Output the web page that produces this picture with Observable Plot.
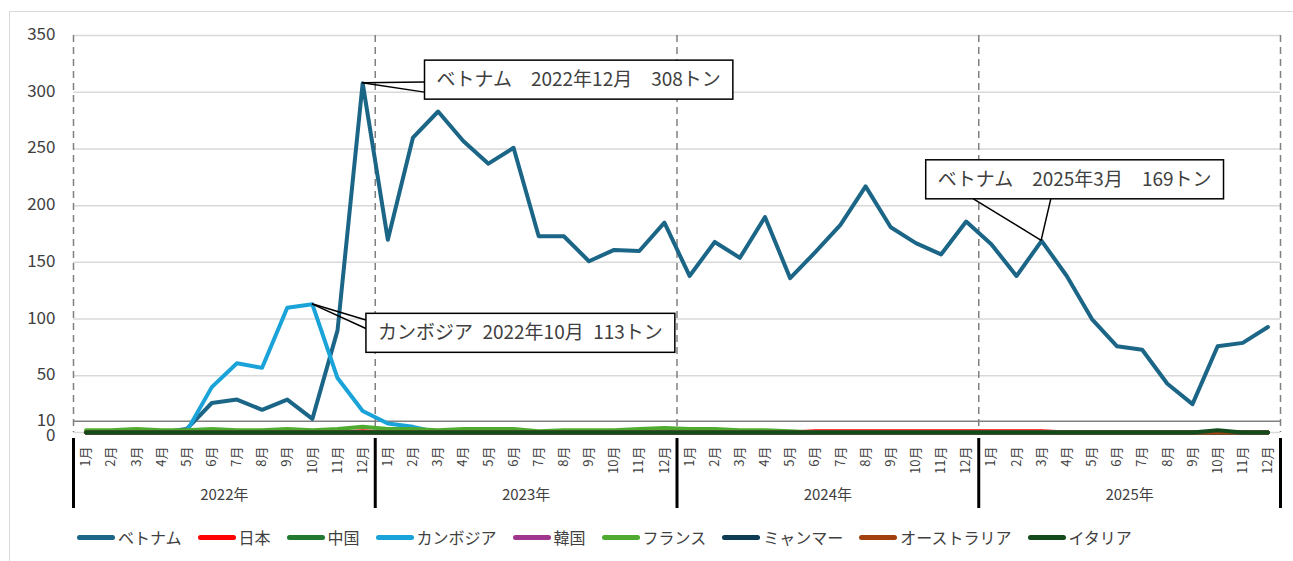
<!DOCTYPE html>
<html>
<head>
<meta charset="utf-8">
<script src="https://cdn.jsdelivr.net/npm/d3@7"></script>
<script src="https://cdn.jsdelivr.net/npm/@observablehq/plot@0.6"></script>
<style>
  body { margin: 0; background: #fff; font-family: "Noto Sans CJK JP", "Noto Sans", sans-serif; }
  #wrap { position: relative; width: 1293px; height: 561px; overflow: hidden; background: #fff; }
  #frame { position: absolute; left: 9px; top: 11px; width: 1320px; height: 600px; border: 1.5px solid #d9d9d9; pointer-events: none; }
  #chart { position: absolute; left: 0; top: 0; }
  #legend { position: absolute; left: 77px; top: 524px; width: 1200px; height: 26px; display: flex; justify-content: flex-start; align-items: center; font-size: 16px; color: #404040; }
  .item { display: flex; align-items: center; margin-right: 16px; white-space: nowrap; }
  .sw { display: inline-block; width: 38px; height: 5px; border-radius: 3px; margin-right: 3px; }
</style>
</head>
<body>
<div id="wrap">
  <div id="frame"></div>
  <div id="chart"></div>
  <div id="legend"></div>
</div>
<script>
// ---- data ----
const monthLabels = ["1月","2月","3月","4月","5月","6月","7月","8月","9月","10月","11月","12月"];
const yearLabels = ["2022年","2023年","2024年","2025年"];
const seriesNames = ["ベトナム","日本","中国","カンボジア","韓国","フランス","ミャンマー","オーストラリア","イタリア"];
const seriesColors = ["#1b6587","#ff0000","#217a2f","#1aa3d9","#a0358f","#4fab2f","#0f3c55","#a2410f","#144b1d"];

const vietnam = [0,0,0,0,3,26,29,20,29,12,90,308,
                 170,260,283,257,237,251,173,173,151,161,160,185,
                 138,168,154,190,136,159,183,217,181,167,157,186,
                 166,138,169,138,100,76,73,43,25,76,79,93];
const japan = [0,0,0,0,0,0,0,0,0,0,0,1,
               0,0,0,0,0,0,0,0,0,0,0,0,
               0,0,0,0,0,1,1,1,1,1,1,1,
               1,1,1,0,0,0,0,0,0,0,0,0];
const china = [0,0,0,0,0,0,0,0,0,0,0,0,
               0,0,0,0,0,0,0,0,0,0,0,0,
               0,0,0,0,0,0,0,0,0,0,0,0,
               0,0,0,0,0,0,0,0,0,0,0,0];
const cambodia = [0,0,0,0,1,40,61,57,110,113,48,19,
                  8,5,0,0,0,0,0,0,0,0,0,0,
                  0,0,0,0,0,0,0,0,0,0,0,0,
                  0,0,0,0,0,0,0,0,0,0,0,0];
const korea = [0,0,0,0,0,0,0,0,0,0,0,0,
               0,0,0,0,0,0,0,0,0,0,0,0,
               0,0,0,0,0,0,0,0,0,0,0,0,
               0,0,0,0,0,0,0,0,0,0,0,0];
const france = [2,2,3,2,2,3,2,2,3,2,3,5,
                3,3,2,3,3,3,1,2,2,2,3,4,
                3,3,2,2,1,0,0,0,0,0,0,0,
                0,0,0,0,0,0,0,0,0,0,0,0];
const myanmar = [0,0,0,0,0,0,0,0,0,0,0,0,
                 0,0,0,0,0,0,0,0,0,0,0,0,
                 0,0,0,0,0,0,0,0,0,0,0,0,
                 0,0,0,0,0,0,0,0,0,0,0,0];
const australia = [0,0,0,0,0,0,0,0,0,0,0,0,
                   0,0,0,0,0,0,0,0,0,0,0,0,
                   0,0,0,0,0,0,0,0,0,0,0,0,
                   0,0,0,0,0,0,0,0,0,0,0,0];
const italy = [0,0,0,0,0,0,0,0,0,0,0,0,
               0,0,0,0,0,0,0,0,0,0,0,0,
               0,0,0,0,0,0,0,0,0,0,0,0,
               0,0,0,0,0,0,0,0,0,2,0,0];
const seriesValues = [vietnam, japan, china, cambodia, korea, france, myanmar, australia, italy];

const yTicks = [10,50,100,150,200,250,300,350];
const yZeroTick = [0];

const annotations = [
  {series: "ベトナム", idx: 11, text: "ベトナム  2022年12月  308トン", dx: 216, dy: -3, side: "left", f: [0.56, 0.82]},
  {series: "ベトナム", idx: 38, text: "ベトナム  2025年3月  169トン", dx: 33, dy: -61, side: "bottom", f: [0.16, 0.42]},
  {series: "カンボジア", idx: 9, text: "カンボジア 2022年10月 113トン", dx: 208, dy: 29, side: "left", f: [0.17, 0.39]}
];

// ---- build ----
const table = seriesNames.flatMap((name, s) =>
  seriesValues[s].map((v, i) => ({series: name, x: i + 0.5, value: v})));
const annData = annotations.map(a => ({...a, x: a.idx + 0.5,
  value: seriesValues[seriesNames.indexOf(a.series)][a.idx]}));

const nMonths = vietnam.length;
const yearBounds = d3.range(0, nMonths + 1, 12);
const yearMids = yearLabels.map((_, k) => k * 12 + 6);
const gridLight = [0,50,100,150,200,250,300,350];

const chart = Plot.plot({
  width: 1293,
  height: 515,
  marginLeft: 73,
  marginRight: 13,
  marginTop: 35,
  marginBottom: 83,
  style: {fontFamily: '"Noto Sans CJK JP", sans-serif', color: "#404040", background: "transparent"},
  x: {type: "linear", domain: [0, nMonths], axis: null},
  y: {domain: [0, 350], axis: null},
  color: {type: "ordinal", domain: seriesNames, range: seriesColors},
  marks: [
    Plot.ruleY(gridLight, {stroke: "#d9d9d9", strokeWidth: 1.5}),
    Plot.ruleY([10], {stroke: "#808080", strokeWidth: 1.5}),
    Plot.ruleX(yearBounds, {stroke: "#808080", strokeWidth: 1.5, strokeDasharray: "7,5"}),
    Plot.axisY({ticks: yTicks, tickSize: 0, tickPadding: 18, fontSize: 17, label: null, fill: "#404040", dy: -1}),
    Plot.axisY({ticks: yZeroTick, tickSize: 0, tickPadding: 18, fontSize: 17, label: null, fill: "#404040", dy: 3}),
    Plot.axisX({ticks: d3.range(nMonths).map(i => i + 0.5), tickFormat: v => monthLabels[Math.floor(v) % 12],
      tickRotate: -90, tickSize: 0, tickPadding: 14, fontSize: 13, label: null, fill: "#404040"}),
    Plot.axisX({ticks: yearMids, tickFormat: v => yearLabels[(v - 6) / 12], tickSize: 0, tickPadding: 57,
      fontSize: 15, label: null, fill: "#404040"}),
    Plot.axisX({ticks: yearBounds, tickFormat: () => "", tickSize: 70, dy: 6, stroke: "black", strokeWidth: 3, label: null}),
    Plot.line(table, {x: "x", y: "value", z: "series", stroke: "series", strokeWidth: 4}),
    ...annData.map(a => Plot.text([a], {x: "x", y: "value", text: d => d.text.replace(/ /g, "\u2002"),
      dx: a.dx, dy: a.dy, fontSize: 19, fill: "#404040", textAnchor: "middle", lineAnchor: "middle"}))
  ]
});
document.getElementById("chart").appendChild(chart);

// callout boxes around annotation texts, with leader lines to the data points
const svg = d3.select(chart);
const xs = chart.scale("x"), ys = chart.scale("y");
const textGroups = Array.from(chart.querySelectorAll('g[aria-label="text"]'));
const svgRect = chart.getBoundingClientRect();
textGroups.forEach((g, i) => {
  const a = annData[i];
  if (!a) return;
  const el = g.querySelector("text");
  const px = xs.apply(a.x), py = ys.apply(a.value);
  const r = el.getBoundingClientRect();
  const cx = r.left - svgRect.left + r.width / 2;
  const cy = py + a.dy;
  const w = r.width + 24, h = 39;
  const bx = cx - w / 2, by = cy - h / 2;
  const layer = svg.insert("g", () => g);
  const pts = a.side === "left" ? a.f.map(f => [bx, by + f * h]) : a.f.map(f => [bx + f * w, by + h]);
  pts.forEach(p => layer.append("line").attr("x1", px).attr("y1", py).attr("x2", p[0]).attr("y2", p[1])
    .attr("stroke", "black").attr("stroke-width", 1.5));
  layer.append("rect").attr("x", bx).attr("y", by).attr("width", w).attr("height", h)
    .attr("fill", "white").attr("stroke", "black").attr("stroke-width", 1.5);
});

// legend
const legend = d3.select("#legend");
seriesNames.forEach((name, s) => {
  const it = legend.append("div").attr("class", "item");
  it.append("span").attr("class", "sw").style("background", seriesColors[s]);
  it.append("span").text(name);
});
</script>
</body>
</html>
